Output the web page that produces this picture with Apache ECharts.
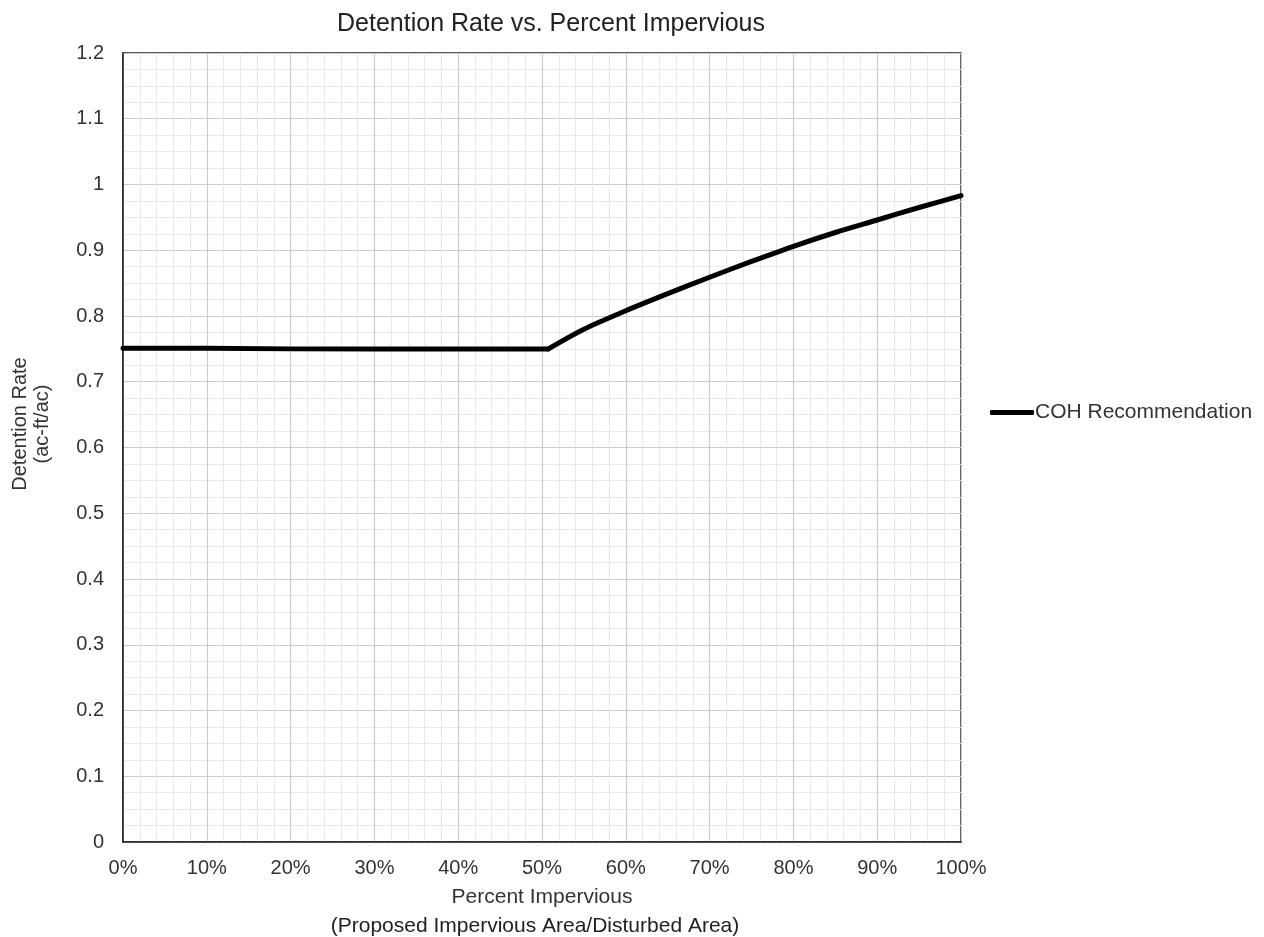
<!DOCTYPE html>
<html>
<head>
<meta charset="utf-8">
<script src="https://cdn.jsdelivr.net/npm/echarts@6/dist/echarts.min.js"></script>
<style>html,body{margin:0;padding:0;background:#fff;overflow:hidden}#c{width:1264px;height:937px}</style>
</head>
<body>
<div id="c"></div>
<script>
var flatPercent = [0, 10, 20, 30, 40, 50, 50.75];
var flatRate = [0.751, 0.751, 0.75, 0.75, 0.75, 0.75, 0.75];
var curvePercent = [50.75, 55, 60, 65, 70, 75, 80, 85, 90, 95, 100];
var curveRate = [0.75, 0.780, 0.808, 0.834, 0.859, 0.883, 0.906, 0.927, 0.946, 0.965, 0.983];
var xTickLabels = ['0%', '10%', '20%', '30%', '40%', '50%', '60%', '70%', '80%', '90%', '100%'];
var seriesName = 'COH Recommendation';
var titleText = 'Detention Rate vs. Percent Impervious';
var xTitle1 = 'Percent Impervious';
var xTitle2 = '(Proposed Impervious Area/Disturbed Area)';
var yTitle = 'Detention Rate\n(ac-ft/ac)';

var font = 'Liberation Sans, Arial, sans-serif';
var chart = echarts.init(document.getElementById('c'), null, {width: 1264, height: 937});
function pairs(xs, ys) { return xs.map(function (x, i) { return [x, ys[i]]; }); }
var lineStyle = {color: '#000', width: 5, cap: 'round', join: 'round'};
chart.setOption({
  animation: false,
  title: {
    text: titleText, left: 546, top: 7, textAlign: 'center',
    textStyle: {fontFamily: font, fontSize: 25, fontWeight: 'normal', color: '#222'}
  },
  legend: {
    left: 985, top: 397, orient: 'vertical',
    icon: 'roundRect', itemWidth: 44, itemHeight: 5, itemGap: 0,
    textStyle: {fontFamily: font, fontSize: 21, color: '#333', padding: [0, 0, 0, -4]},
    data: [seriesName]
  },
  grid: {left: 123, right: 303, top: 53, bottom: 95, show: true, borderColor: '#222', borderWidth: 1.5, containLabel: false},
  graphic: [
    {type: 'text', x: 31, y: 424, rotation: Math.PI / 2,
     style: {text: yTitle, fontFamily: font, fontSize: 20, fill: '#333', align: 'center', verticalAlign: 'middle', lineHeight: 22}},
    {type: 'text', x: 542, y: 897,
     style: {text: xTitle1, fontFamily: font, fontSize: 21, fill: '#333', align: 'center', verticalAlign: 'middle'}},
    {type: 'text', x: 535, y: 926,
     style: {text: xTitle2, fontFamily: font, fontSize: 21, fill: '#222', align: 'center', verticalAlign: 'middle'}}
  ],
  xAxis: {
    type: 'value', min: 0, max: 100, interval: 10,
    axisLine: {show: true, lineStyle: {color: '#222', width: 1.5}},
    axisTick: {show: false},
    axisLabel: {formatter: function (v) { return xTickLabels[Math.round(v / 10)]; }, fontFamily: font, fontSize: 20, color: '#333', margin: 16},
    splitLine: {show: true, lineStyle: {color: '#cccccc', width: 1.2}},
    minorTick: {show: false, splitNumber: 5},
    minorSplitLine: {show: true, lineStyle: {color: '#e8e8e8', width: 1}}
  },
  yAxis: {
    type: 'value', min: 0, max: 1.2, interval: 0.1,
    axisLine: {show: true, lineStyle: {color: '#222', width: 1.5}},
    axisTick: {show: false},
    axisLabel: {fontFamily: font, fontSize: 20, color: '#333', margin: 19},
    splitLine: {show: true, lineStyle: {color: '#cccccc', width: 1.2}},
    minorTick: {show: false, splitNumber: 4},
    minorSplitLine: {show: true, lineStyle: {color: '#e8e8e8', width: 1}}
  },
  series: [{
    name: seriesName, type: 'line', showSymbol: false, symbol: 'none',
    data: pairs(flatPercent, flatRate),
    lineStyle: lineStyle, itemStyle: {color: '#000'}
  }, {
    name: seriesName, type: 'line', showSymbol: false, symbol: 'none', smooth: 0.3,
    data: pairs(curvePercent, curveRate),
    lineStyle: lineStyle, itemStyle: {color: '#000'}
  }]
});
</script>
</body>
</html>
